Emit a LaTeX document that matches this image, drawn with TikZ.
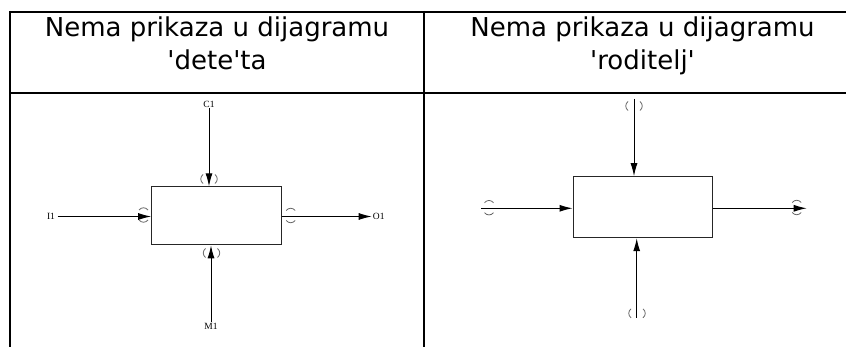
\documentclass[tikz,border=0pt]{standalone}
\usepackage{fontspec}
\setmainfont{DejaVu Sans}
\newfontfamily\lblfont{Liberation Serif}
\usetikzlibrary{arrows.meta,positioning}
\tikzset{
	id_table/.style={draw=black, line width=2pt},
	id_head/.style={font=\fontsize{26}{33}\selectfont, align=center, anchor=base, inner sep=0pt},
	id_box/.style={draw=black!85, line width=1pt, rectangle, fill=white},
	id_line/.style={draw=black, line width=1pt, -{Latex[length=13pt,width=7pt]}},
	id_label/.style={font=\lblfont\fontsize{9.5}{11}\selectfont, inner sep=1pt},
	id_tunnel/.style={draw=black!60, line width=0.8pt}
}
\begin{document}
\begin{tikzpicture}[x=1pt, y=-1pt]
		\useasboundingbox (0,0) rectangle (846,347);
		% table
		\draw [id_table] (10,12) -- (880,12);
		\draw [id_table] (10,93) -- (880,93);
		\draw [id_table] (10,11) -- (10,350);
		\draw [id_table] (424,11) -- (424,350);
		\node [id_head] (head_child) at (217,69.5) {Nema prikaza u dijagramu\\\textquotesingle dete\textquotesingle ta};
		\node [id_head] (head_parent) at (642.5,69.5) {Nema prikaza u dijagramu\\\textquotesingle roditelj\textquotesingle};

		% child diagram
		\node [id_box, minimum width=130pt, minimum height=58pt] (box_child) at (216.7,215.8) {};
		\node [id_label] (lbl_c1) at (209,104) {C1};
		\node [id_label] (lbl_m1) at (211,326) {M1};
		\node [id_label, inner sep=2.5pt] (lbl_i1) at (51,216.5) {I1};
		\node [id_label, anchor=west] (lbl_o1) at (371.7,216.5) {O1};
		\path [id_line] (lbl_c1.south) -- (lbl_c1.south |- box_child.north);
		\path [id_line] (lbl_m1.north) -- (lbl_m1.north |- box_child.south);
		\path [id_line] (lbl_i1.east) -- (box_child.west |- lbl_i1);
		\path [id_line] (box_child.east |- lbl_o1) -- (lbl_o1.west);

		% parent diagram
		\node [id_box, minimum width=139pt, minimum height=61pt] (box_parent) at (642.5,207.2) {};
		\coordinate (ctl_parent) at (634,99);
		\coordinate (mec_parent) at (636.7,318);
		\coordinate (inp_parent) at (481,208.3);
		\coordinate (out_parent) at (806.7,208.3);
		\path [id_line] (ctl_parent) -- (ctl_parent |- box_parent.north);
		\path [id_line] (mec_parent) -- (mec_parent |- box_parent.south);
		\path [id_line] (inp_parent) -- (box_parent.west |- inp_parent);
		\path [id_line] (box_parent.east |- out_parent) -- (out_parent);

		% tunnels
		\foreach \cx/\cy in {209/179, 211.5/253, 634/106, 637/313.3} {
			\draw [id_tunnel] (\cx-6,\cy-4.5) .. controls (\cx-9,\cy-2) and (\cx-9,\cy+2) .. (\cx-6,\cy+4.5);
			\draw [id_tunnel] (\cx+6,\cy-4.5) .. controls (\cx+9,\cy-2) and (\cx+9,\cy+2) .. (\cx+6,\cy+4.5);
		}
		\foreach \cx/\cy in {143.5/215, 290.7/215.5, 489/207.7, 796.7/207.5} {
			\draw [id_tunnel] (\cx-4.5,\cy-5) .. controls (\cx-2,\cy-8) and (\cx+2,\cy-8) .. (\cx+4.5,\cy-5);
			\draw [id_tunnel] (\cx-4.5,\cy+5) .. controls (\cx-2,\cy+8) and (\cx+2,\cy+8) .. (\cx+4.5,\cy+5);
		}
	\end{tikzpicture}
\end{document}
